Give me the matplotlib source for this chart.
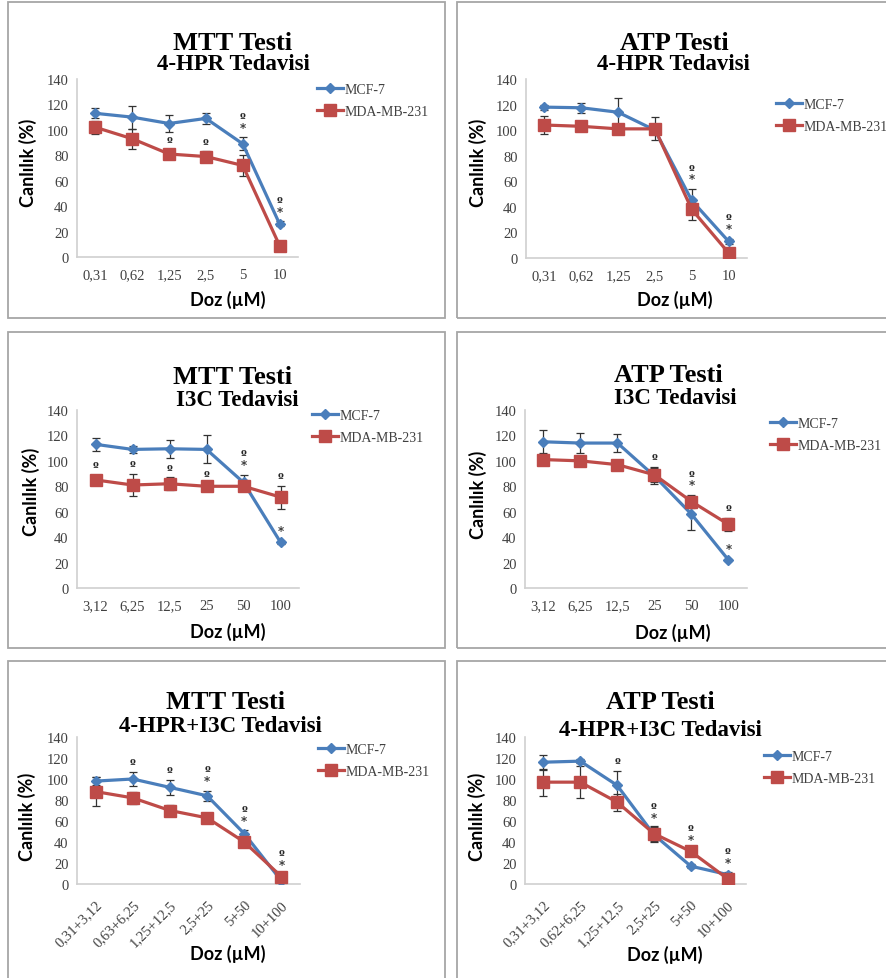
import matplotlib
matplotlib.use("Agg")
import matplotlib.pyplot as plt
from matplotlib.patches import Rectangle
from matplotlib.transforms import offset_copy

# ---------------- data ----------------
dose_hpr = ["0,31", "0,62", "1,25", "2,5", "5", "10"]
dose_i3c = ["3,12", "6,25", "12,5", "25", "50", "100"]
dose_mtt_combo = ["0,31+3,12", "0,63+6,25", "1,25+12,5", "2,5+25", "5+50", "10+100"]
dose_atp_combo = ["0,31+3,12", "0,62+6,25", "1,25+12,5", "2,5+25", "5+50", "10+100"]

series_names = ["MCF-7", "MDA-MB-231"]

mtt_hpr_mcf7 = [113, 110, 105, 109, 89, 26]
mtt_hpr_mcf7_err = [4, 9, 7, 4, 5, 2]
mtt_hpr_mda = [102, 93, 81, 79, 72, 9]
mtt_hpr_mda_err = [5, 8, 3, 4, 8, 2]

atp_hpr_mcf7 = [118, 117.5, 114, 100, 45, 13]
atp_hpr_mcf7_err = [2, 4, 11, 3, 9, 2]
atp_hpr_mda = [104, 103, 101, 101, 38, 4]
atp_hpr_mda_err = [7, 2, 2, 9, 8, 2]

mtt_i3c_mcf7 = [113, 109, 109.5, 109, 83, 36]
mtt_i3c_mcf7_err = [5, 3, 7, 11, 6, 1]
mtt_i3c_mda = [85, 81, 82, 80, 80, 71.5]
mtt_i3c_mda_err = [4, 9, 5, 2, 2, 9]

atp_i3c_mcf7 = [115, 114, 114, 88, 58, 22]
atp_i3c_mcf7_err = [9, 8, 7, 6, 12, 1]
atp_i3c_mda = [101, 100, 97, 89, 68, 50]
atp_i3c_mda_err = [4, 3, 4, 6, 5, 5]

mtt_combo_mcf7 = [98, 100, 92, 84, 48, 3]
mtt_combo_mcf7_err = [4, 7, 7, 5, 3, 1]
mtt_combo_mda = [88, 82, 70, 63, 40, 7]
mtt_combo_mda_err = [14, 6, 5, 2, 2, 2]

atp_combo_mcf7 = [116, 117, 94, 47, 17, 9]
atp_combo_mcf7_err = [7, 2, 14, 7, 2, 2]
atp_combo_mda = [97, 97, 78, 48, 31, 5]
atp_combo_mda_err = [13, 15, 8, 7, 2, 2]

# significance marks: (category index, series index, text)
marks_mtt_hpr = [(2, 1, "º"), (3, 1, "º"), (4, 0, "º\n*"), (5, 0, "º\n*")]
marks_atp_hpr = [(4, 0, "º\n*"), (5, 0, "º\n*")]
marks_mtt_i3c = [(0, 1, "º"), (1, 1, "º"), (2, 1, "º"), (3, 1, "º"), (4, 0, "º\n*"), (5, 1, "º"), (5, 0, "*")]
marks_atp_i3c = [(3, 1, "º"), (4, 1, "º\n*"), (5, 1, "º"), (5, 0, "*")]
marks_mtt_combo = [(1, 0, "º"), (2, 0, "º"), (3, 0, "º\n*"), (4, 0, "º\n*"), (5, 1, "º\n*")]
marks_atp_combo = [(2, 0, "º"), (3, 0, "º\n*"), (4, 1, "º\n*"), (5, 0, "º\n*")]

titles = [("MTT Testi", "4-HPR Tedavisi"), ("ATP Testi", "4-HPR Tedavisi"),
          ("MTT Testi", "I3C Tedavisi"), ("ATP Testi", "I3C Tedavisi"),
          ("MTT Testi", "4-HPR+I3C Tedavisi"), ("ATP Testi", "4-HPR+I3C Tedavisi")]
y_label = "Canlılık (%)"
x_label = "Doz (µM)"
y_ticks = [0, 20, 40, 60, 80, 100, 120, 140]

panels_data = [
    (dose_hpr, [(mtt_hpr_mcf7, mtt_hpr_mcf7_err), (mtt_hpr_mda, mtt_hpr_mda_err)], marks_mtt_hpr),
    (dose_hpr, [(atp_hpr_mcf7, atp_hpr_mcf7_err), (atp_hpr_mda, atp_hpr_mda_err)], marks_atp_hpr),
    (dose_i3c, [(mtt_i3c_mcf7, mtt_i3c_mcf7_err), (mtt_i3c_mda, mtt_i3c_mda_err)], marks_mtt_i3c),
    (dose_i3c, [(atp_i3c_mcf7, atp_i3c_mcf7_err), (atp_i3c_mda, atp_i3c_mda_err)], marks_atp_i3c),
    (dose_mtt_combo, [(mtt_combo_mcf7, mtt_combo_mcf7_err), (mtt_combo_mda, mtt_combo_mda_err)], marks_mtt_combo),
    (dose_atp_combo, [(atp_combo_mcf7, atp_combo_mcf7_err), (atp_combo_mda, atp_combo_mda_err)], marks_atp_combo),
]

# ---------------- layout (pixels) ----------------
W, H = 887, 979
DPI = 100
fig = plt.figure(figsize=(W / DPI, H / DPI), dpi=DPI)
fig.patch.set_facecolor("white")

def fx(px):
    return px / W

def fy(py):
    return 1 - py / H

frames = [(8, 3, 445, 319), (457, 3, 895, 319),
          (8, 333, 445, 649), (457, 333, 895, 649),
          (8, 662, 445, 985), (457, 662, 895, 985)]
axboxes = [(77, 298, 80, 258), (526, 747, 80, 259),
           (77, 299, 411, 589), (525, 747, 411, 589),
           (77, 300, 738, 885), (525, 746, 738, 885)]
title_pos = [(233, 43, 233, 65), (674, 43, 673, 65),
             (233, 377, 237, 401), (668, 376, 675, 399),
             (226, 703, 220, 727), (660, 703, 660, 731)]
ylabel_pos = [(28, 163), (478, 163), (31, 492), (478, 495), (27, 817), (477, 817)]
xlabel_pos = [(228, 300), (675, 300), (228, 632), (673, 633), (228, 954), (665, 955)]
legend_pos = [(317, 84), (776, 99), (312, 410), (770, 418), (318, 744), (764, 751)]

blue = "#4A7EBB"
red = "#BE4B48"
colors = [blue, red]
markers = ["D", "s"]
msizes = [5.5, 8.5]
serif = ["Liberation Serif", "DejaVu Serif"]
mark_font = ["DejaVu Serif"]
sans_bold = ["Lato", "DejaVu Sans"]
tick_fs = 10.5

for fr in frames:
    x0, y0, x1, y1 = fr
    fig.patches.append(Rectangle((fx(x0), fy(y1)), fx(x1) - fx(x0), fy(y0) - fy(y1),
                                 transform=fig.transFigure, fill=False,
                                 edgecolor="#a6a6a6", linewidth=1.3, zorder=0))

for i, (cats, series, marks) in enumerate(panels_data):
    l, r, t, b = axboxes[i]
    ax = fig.add_axes([fx(l), fy(b), fx(r) - fx(l), fy(t) - fy(b)])
    ax.set_facecolor("none")
    xs = list(range(len(cats)))
    handles = []
    for s, (vals, errs) in enumerate(series):
        ax.errorbar(xs, vals, yerr=errs, fmt="none", ecolor="#333333",
                    elinewidth=0.9, capsize=3, capthick=0.9, zorder=2)
        ln, = ax.plot(xs, vals, color=colors[s], linewidth=2.3, marker=markers[s],
                      markersize=msizes[s], markerfacecolor=colors[s],
                      markeredgecolor=colors[s], zorder=3 + s, label=series_names[s])
        handles.append(ln)
    for (ci, si, txt) in marks:
        vals, errs = series[si]
        ytop = vals[ci] + errs[ci]
        trans = offset_copy(ax.transData, fig=fig, x=0, y=2, units="points")
        ax.text(ci, ytop, txt, transform=trans, ha="center", va="bottom",
                fontsize=8.5, fontweight="bold", color="#262626",
                family=mark_font, linespacing=0.85, zorder=6)
    ax.set_xlim(-0.5, len(cats) - 0.5)
    ax.set_ylim(0, 140)
    ax.set_yticks(y_ticks)
    ax.set_yticklabels([str(v) for v in y_ticks], family=serif, fontsize=tick_fs, color="#404040")
    ax.set_xticks(xs)
    if i >= 4:
        ax.set_xticklabels(cats, family=serif, fontsize=tick_fs, color="#404040",
                           rotation=45, ha="right", va="top", rotation_mode="anchor")
        ax.tick_params(axis="x", pad=10)
    else:
        ax.set_xticklabels(cats, family=serif, fontsize=tick_fs, color="#404040")
        ax.tick_params(axis="x", pad=8)
    ax.tick_params(axis="y", pad=6)
    ax.tick_params(length=0)
    for side in ["top", "right"]:
        ax.spines[side].set_visible(False)
    for side in ["left", "bottom"]:
        ax.spines[side].set_color("#d0d0d0")
        ax.spines[side].set_linewidth(1.2)

    tx1, ty1, tx2, ty2 = title_pos[i]
    fig.text(fx(tx1), fy(ty1), titles[i][0], ha="center", va="center",
             family=serif, fontweight="bold", fontsize=19)
    fig.text(fx(tx2), fy(ty2), titles[i][1], ha="center", va="center",
             family=serif, fontweight="bold", fontsize=16.5)
    yx, yy = ylabel_pos[i]
    fig.text(fx(yx), fy(yy), y_label, rotation=90, ha="center", va="center",
             family=sans_bold, fontweight="bold", fontsize=13)
    xx, xy = xlabel_pos[i]
    fig.text(fx(xx), fy(xy), x_label, ha="center", va="center",
             family=sans_bold, fontweight="bold", fontsize=13)
    lx, ly = legend_pos[i]
    leg = ax.legend(handles=handles, loc="upper left", bbox_to_anchor=(fx(lx), fy(ly)),
                    bbox_transform=fig.transFigure, frameon=False, numpoints=1,
                    handlelength=1.9, handletextpad=0.05, labelspacing=0.65,
                    borderpad=0, borderaxespad=0,
                    prop={"family": serif, "size": 10})
    for txt in leg.get_texts():
        txt.set_color("#404040")

fig.savefig("out.png", dpi=DPI, facecolor="white")
